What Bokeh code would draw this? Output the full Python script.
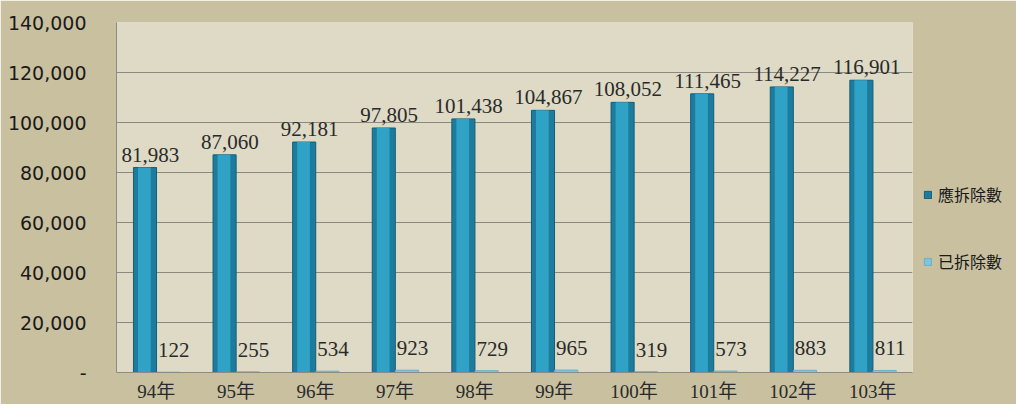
from bokeh.plotting import figure
from bokeh.models import ColumnDataSource, Legend, LegendItem, NumeralTickFormatter, FixedTicker
from bokeh.transform import dodge
from bokeh.core.properties import value
from bokeh.embed import file_html
from bokeh.resources import INLINE

categories = ["94年", "95年", "96年", "97年", "98年", "99年", "100年", "101年", "102年", "103年"]
should_remove = [81983, 87060, 92181, 97805, 101438, 104867, 108052, 111465, 114227, 116901]
removed = [122, 255, 534, 923, 729, 965, 319, 573, 883, 811]
series_names = ["應拆除數", "已拆除數"]
y_ticks = [0, 20000, 40000, 60000, 80000, 100000, 120000, 140000]

src = ColumnDataSource(dict(
    cat=categories,
    s1=should_remove,
    s2=removed,
    l1=[f"{v:,}" for v in should_remove],
    l2=[f"{v:,}" for v in removed],
))

OUTER = "#C8C09F"
INNER = "#DEDAC5"
SERIF = "Liberation Serif, 'Noto Sans CJK TC'"

p = figure(x_range=categories, y_range=(0, 140000), frame_width=796, frame_height=350,
           min_border_left=116, min_border_right=0, min_border_top=22, min_border_bottom=21,
           output_backend="svg", toolbar_location=None, tools="")
p.background_fill_color = INNER
p.border_fill_color = OUTER
p.outline_line_color = None

r1 = p.vbar(x=dodge("cat", -0.142, range=p.x_range), top="s1", width=0.29, source=src,
            fill_color="#1C7C9E", line_color="#155E78", line_width=1)
p.vbar(x=dodge("cat", -0.15, range=p.x_range), top="s1", width=0.16, source=src,
       fill_color="#2FA2C6", line_color=None)
r2 = p.vbar(x=dodge("cat", 0.15, range=p.x_range), top="s2", width=0.29, source=src,
            fill_color="#7EC4DE", line_color="#6AAFC9", line_width=1)

p.text(x=dodge("cat", -0.075, range=p.x_range), y="s1", text="l1", source=src,
       text_align="center", text_baseline="bottom", y_offset=-6,
       text_font=value("Liberation Serif"), text_font_size="21px", text_color="#2a2a2a")
p.text(x=dodge("cat", 0.22, range=p.x_range), y="s2", text="l2", source=src,
       text_align="center", text_baseline="bottom", y_offset=-15,
       text_font=value("Liberation Serif"), text_font_size="21px", text_color="#2a2a2a")

p.yaxis.ticker = FixedTicker(ticks=y_ticks)
p.yaxis.formatter = NumeralTickFormatter(format="0,0")
p.yaxis.major_label_overrides = {0: "-"}
p.yaxis.major_label_text_font = "DejaVu Sans"
p.yaxis.major_label_text_font_size = "19px"
p.yaxis.major_label_text_color = "#1a1a1a"
p.yaxis.major_tick_line_color = None
p.yaxis.minor_tick_line_color = None
p.yaxis.major_label_standoff = 24
p.yaxis.axis_line_color = "#8C8C84"

p.xaxis.major_label_text_font = SERIF
p.xaxis.major_label_text_font_size = "19px"
p.xaxis.major_label_text_color = "#2a2a2a"
p.xaxis.major_tick_line_color = None
p.xaxis.major_label_standoff = 2
p.xaxis.axis_line_color = "#8C8C84"

p.xgrid.grid_line_color = None
p.ygrid.grid_line_color = "#8A8A80"
p.ygrid.grid_line_width = 1

legend = Legend(items=[LegendItem(label=series_names[0], renderers=[r1]),
                       LegendItem(label=series_names[1], renderers=[r2])],
                location=(11, 99), orientation="vertical",
                background_fill_alpha=0, border_line_color=None,
                label_text_font="'Noto Sans CJK TC'", label_text_font_size="16px",
                label_text_color="#1a1a1a", glyph_width=9, glyph_height=9,
                label_standoff=6, spacing=43, padding=0, margin=0, label_height=20)
p.add_layout(legend, "right")

open("out.html", "w").write(file_html(p, INLINE))
